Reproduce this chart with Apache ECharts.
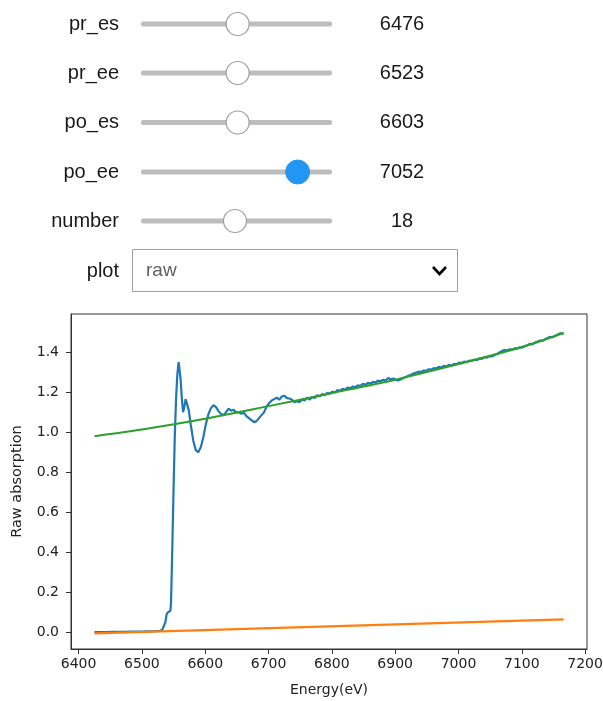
<!DOCTYPE html>
<html>
<head>
<meta charset="utf-8">
<script src="https://cdn.jsdelivr.net/npm/echarts@6/dist/echarts.min.js"></script>
<style>
html,body{margin:0;padding:0;background:#fff;}
#chart{width:603px;height:701px;}
</style>
</head>
<body>
<div id="chart"></div>
<script>
// ---- widget texts ----
var sliderNames = ['pr_es', 'pr_ee', 'po_es', 'po_ee', 'number'];
var sliderValues = ['6476', '6523', '6603', '7052', '18'];
var sliderFractions = [0.506, 0.506, 0.506, 0.82, 0.492];
var sliderActive = [false, false, false, true, false];
var dropdownLabel = 'plot';
var dropdownValue = 'raw';

// ---- axis ticks ----
var xTicks = [6400, 6500, 6600, 6700, 6800, 6900, 7000, 7100, 7200];
var yTicks = [0.0, 0.2, 0.4, 0.6, 0.8, 1.0, 1.2, 1.4];

// ---- raw absorption (blue) ----
var rawEnergy = [6425,6440,6455,6470,6485,6500,6510,6520,6528,6532,6535,6537,6539,6541,6543,6545,6546,6548,6550,6552,6554,6556,6558,6559,6561,6563,6565,6567,6569,6571,6574,6577,6581,6585,6589,6593,6597,6601,6605,6609,6613,6617,6621,6625,6629,6633,6637,6641,6645,6649,6653,6657,6661,6665,6669,6673,6677,6681,6685,6689,6693,6697,6701,6705,6709,6713,6717,6721,6725,6729,6733,6737,6741,6745,6749,6753,6757,6761,6765,6769,6773,6777,6781,6785,6789,6793,6797,6801,6805,6809,6813,6817,6821,6825,6829,6833,6837,6841,6845,6849,6853,6857,6861,6865,6869,6873,6877,6881,6885,6889,6893,6897,6901,6905,6909,6913,6917,6921,6925,6929,6933,6937,6941,6945,6949,6953,6957,6961,6965,6969,6973,6977,6981,6985,6989,6993,6997,7001,7005,7009,7013,7017,7021,7025,7029,7033,7037,7041,7045,7049,7053,7057,7061,7065,7069,7073,7077,7081,7085,7089,7093,7097,7101,7105,7109,7113,7117,7121,7125,7129,7133,7137,7141,7145,7149,7153,7157,7161,7166];
var rawAbs = [0.002,0.002,0.003,0.003,0.004,0.004,0.005,0.006,0.008,0.011,0.015,0.05,0.09,0.100,0.103,0.108,0.15,0.42,0.72,0.99,1.17,1.29,1.35,1.345,1.27,1.17,1.10,1.125,1.165,1.16,1.11,1.04,0.96,0.91,0.90,0.925,0.975,1.04,1.09,1.12,1.135,1.125,1.105,1.09,1.085,1.10,1.118,1.107,1.112,1.098,1.10,1.092,1.097,1.08,1.07,1.06,1.05,1.055,1.07,1.085,1.10,1.128,1.145,1.158,1.165,1.172,1.162,1.178,1.182,1.17,1.168,1.162,1.15,1.155,1.15,1.163,1.158,1.172,1.163,1.176,1.17,1.184,1.179,1.19,1.184,1.196,1.192,1.202,1.198,1.21,1.206,1.216,1.212,1.222,1.219,1.228,1.225,1.234,1.23,1.241,1.236,1.246,1.243,1.251,1.248,1.257,1.254,1.262,1.258,1.27,1.263,1.268,1.262,1.258,1.264,1.27,1.276,1.282,1.287,1.293,1.297,1.302,1.3,1.308,1.306,1.314,1.312,1.32,1.318,1.326,1.323,1.331,1.328,1.336,1.333,1.341,1.339,1.347,1.345,1.352,1.35,1.357,1.356,1.362,1.36,1.368,1.366,1.374,1.372,1.38,1.378,1.386,1.39,1.398,1.406,1.41,1.408,1.414,1.412,1.419,1.417,1.424,1.422,1.43,1.434,1.441,1.438,1.447,1.452,1.458,1.456,1.464,1.47,1.476,1.474,1.482,1.488,1.494,1.492,1.5,1.506,1.503];

// ---- pre-edge fit (orange) ----
var preEnergy = [6425, 7166];
var preAbs = [-0.005, 0.065];

// ---- post-edge fit (green) ----
var postEnergy = [6425, 6500, 6600, 6700, 6800, 6900, 7000, 7100, 7166];
var postAbs = [0.980, 1.013, 1.067, 1.130, 1.195, 1.262, 1.340, 1.425, 1.495];

function pairs(xs, ys) { return xs.map(function (x, i) { return [x, ys[i]]; }); }

var W = 'Liberation Sans, Arial, sans-serif';
var MPL = 'DejaVu Sans, sans-serif';

// widget graphics
var graphics = [];
var rowY = [24, 73, 122.5, 172, 221];
var trackX0 = 141, trackX1 = 332;
sliderNames.forEach(function (name, i) {
  var y = rowY[i];
  graphics.push({ type: 'text', style: { text: name, x: 119, y: y, align: 'right', verticalAlign: 'middle', font: '20px ' + W, fill: '#1a1a1a' } });
  graphics.push({ type: 'rect', shape: { x: trackX0, y: y - 2.5, width: trackX1 - trackX0, height: 5, r: 2 }, style: { fill: '#bdbdbd' } });
  var hx = trackX0 + sliderFractions[i] * (trackX1 - trackX0);
  if (sliderActive[i]) {
    graphics.push({ type: 'circle', shape: { cx: hx, cy: y, r: 12 }, style: { fill: '#2196f3', stroke: '#2196f3', lineWidth: 1 } });
  } else {
    graphics.push({ type: 'circle', shape: { cx: hx, cy: y, r: 11.5 }, style: { fill: '#ffffff', stroke: '#9e9e9e', lineWidth: 1.2 } });
  }
  graphics.push({ type: 'text', style: { text: sliderValues[i], x: 402, y: y, align: 'center', verticalAlign: 'middle', font: '20px ' + W, fill: '#1a1a1a' } });
});
graphics.push({ type: 'text', style: { text: dropdownLabel, x: 119, y: 271, align: 'right', verticalAlign: 'middle', font: '20px ' + W, fill: '#1a1a1a' } });
graphics.push({ type: 'rect', shape: { x: 132.5, y: 249.5, width: 325, height: 42 }, style: { fill: '#fff', stroke: '#9e9e9e', lineWidth: 1 } });
graphics.push({ type: 'text', style: { text: dropdownValue, x: 146, y: 271, align: 'left', verticalAlign: 'middle', font: '19px ' + W, fill: '#616161' } });
graphics.push({ type: 'polyline', shape: { points: [[433, 267], [439.5, 274], [446, 267]] }, style: { stroke: '#000', lineWidth: 2.6, fill: null } });

var chart = echarts.init(document.getElementById('chart'), null, { renderer: 'canvas' });
chart.setOption({
  animation: false,
  backgroundColor: '#fff',
  graphic: graphics,
  grid: { left: 71, right: 16, top: 314, bottom: 52, show: true, borderColor: '#333', borderWidth: 1, containLabel: false, outerBoundsMode: 'none' },
  xAxis: {
    type: 'value', min: 6388, max: 7203,
    name: 'Energy(eV)', nameLocation: 'middle', nameGap: 34,
    nameTextStyle: { fontFamily: MPL, fontSize: 14, color: '#222' },
    axisLine: { show: true, onZero: false, lineStyle: { color: '#333', width: 1 } },
    axisTick: { show: true, inside: false, length: 5, customValues: xTicks, lineStyle: { color: '#333' } },
    axisLabel: { customValues: xTicks, margin: 8, fontFamily: MPL, fontSize: 14, color: '#222', showMinLabel: true, showMaxLabel: true, formatter: function (v) { return String(Math.round(v)); } },
    splitLine: { show: false }
  },
  yAxis: {
    type: 'value', min: -0.083, max: 1.59,
    name: 'Raw absorption', nameLocation: 'middle', nameGap: 46, nameRotate: 90,
    nameTextStyle: { fontFamily: MPL, fontSize: 14.5, color: '#222' },
    axisLine: { show: true, onZero: false, lineStyle: { color: '#333', width: 1 } },
    axisTick: { show: true, inside: false, length: 5, customValues: yTicks, lineStyle: { color: '#333' } },
    axisLabel: { customValues: yTicks, margin: 12, fontFamily: MPL, fontSize: 14, color: '#222', formatter: function (v) { return v.toFixed(1); } },
    splitLine: { show: false }
  },
  series: [
    { type: 'line', data: pairs(rawEnergy, rawAbs), showSymbol: false, lineStyle: { color: '#1f77b4', width: 2.2 }, z: 2 },
    { type: 'line', data: pairs(preEnergy, preAbs), showSymbol: false, lineStyle: { color: '#ff7f0e', width: 2.2 }, z: 3 },
    { type: 'line', data: pairs(postEnergy, postAbs), showSymbol: false, smooth: 0.3, lineStyle: { color: '#2ca02c', width: 2 }, z: 4 }
  ]
});
</script>
</body>
</html>
